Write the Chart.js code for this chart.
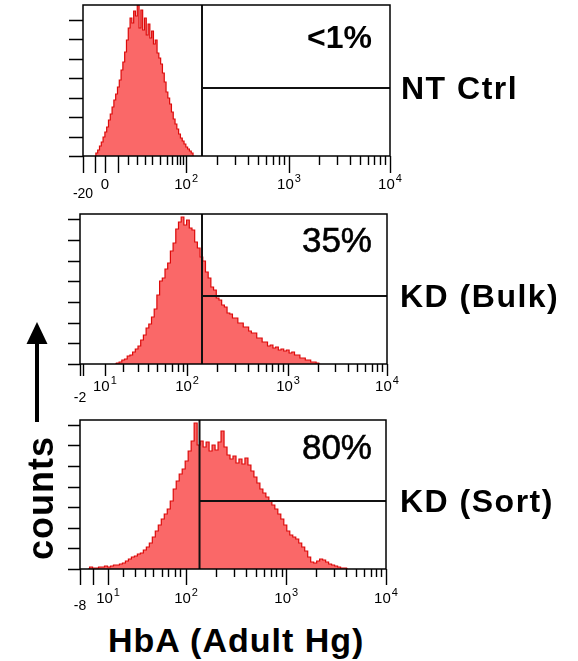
<!DOCTYPE html>
<html>
<head>
<meta charset="utf-8">
<script src="https://cdn.jsdelivr.net/npm/chart.js@4.4.1/dist/chart.umd.min.js"></script>
<style>
  body { margin: 0; background: #fff; font-family: Arial, "Liberation Sans", sans-serif; }
  #wrap { position: relative; width: 578px; height: 661px; overflow: hidden; background: #fff; }
  canvas { position: absolute; left: 0; }
  .txt { position: absolute; color: #000; white-space: nowrap; line-height: 1; }
</style>
</head>
<body>
<div id="wrap">
  <canvas id="p1" width="578" height="205" style="top:0px"></canvas>
  <canvas id="p2" width="578" height="205" style="top:205px"></canvas>
  <canvas id="p3" width="578" height="205" style="top:410px"></canvas>

  <div class="txt" id="pct1" style="font:bold 32px Arial; right:206px; top:19px"></div>
  <div class="txt" id="pct2" style="font:35px Arial; -webkit-text-stroke:0.6px #000; right:206px; top:220px"></div>
  <div class="txt" id="pct3" style="font:35px Arial; -webkit-text-stroke:0.6px #000; right:206px; top:427px"></div>

  <div class="txt" id="name1" style="font:bold 32px Arial; letter-spacing:1.5px; left:401px; top:70px"></div>
  <div class="txt" id="name2" style="font:bold 32px Arial; letter-spacing:1.5px; left:400px; top:278px"></div>
  <div class="txt" id="name3" style="font:bold 32px Arial; letter-spacing:1.5px; left:400px; top:483px"></div>

  <div class="txt" id="ytitle" style="font:bold 36px Arial; letter-spacing:1px; left:41px; top:498px; transform:translate(-50%,-50%) rotate(-90deg)">counts</div>
  <svg style="position:absolute; left:0; top:0" width="80" height="661">
    <rect x="35" y="340" width="4" height="82" fill="#000"/>
    <polygon points="37,322 26.5,344 47.5,344" fill="#000"/>
  </svg>
  <div class="txt" id="xtitle" style="font:bold 34px Arial; letter-spacing:1px; left:108px; top:621px">HbA (Adult Hg)</div>
</div>

<script>
// ---------- data ----------
// x is the instrument display channel (0..1024), y is counts
const panelNames   = ['NT Ctrl', 'KD (Bulk)', 'KD (Sort)'];
const gatePercents = ['<1%', '35%', '80%'];
const gateChannels = [397, 407, 400];
const gateLevels   = [68, 68, 68];
const countMax     = [151, 150, 149];
const countStep    = [19.5, 20.7, 20.6];

const ntCtrlStart = 40, ntCtrlBin = 6;
const ntCtrlCounts = [0,3,6,10,14,19,24,29,36,42, 49,56,62,69,76,86,94,104,116,128,
  138,133,145,140,151,128,146,126,138,121, 132,118,125,112,116,103,98,92,83,74,
  64,58,52,44,37,32,27,22,18,15, 12,9,7,5,3,0];

const bulkStart = 117, bulkBin = 9;
const bulkCounts = [0,1,2,4,5,8,9,12,15,18, 24,29,36,40,47,55,69,83,86,95,
  101,113,121,135,142,147,139,144,136,134, 122,116,107,103,92,86,77,74,66,64,
  59,57,51,50,46,46,41,41,37,37, 33,31,31,26,26,22,22,18,19,16,
  17,14,15,13,14,11,12,9,9,6, 6,4,4,2,2,1,0];

const sortStart = 27, sortBin = 10;
const sortCounts = [0,2,1,1,2,2,3,2,3,4, 4,5,6,8,10,12,13,15,16,19,
  22,26,32,38,44,50,55,60,68,80, 88,95,100,108,118,128,146,124,128,122,
  127,118,124,119,127,138,122,114,110,113, 106,110,105,111,104,98,92,86,80,76,
  72,68,64,60,55,50,44,38,34,32, 30,26,22,18,12,7,6,8,10,9,
  7,5,4,3,2,1,1,0];

// tick labels and positions (channels)
const ntCtrlTickCh   = [0, 73, 344, 687, 1024];
const ntCtrlTickText = ['-20', '0', '10^2', '10^3', '10^4'];
const ntCtrlLongCh   = [0, 40, 73, 117, 344, 687, 1024];
const ntCtrlShortCh  = [150, 180, 207, 230, 257, 280, 297, 314, 324, 334];
const ntCtrlDecades  = [344, 687, 1024];

const bulkTickCh   = [0, 83, 357, 694, 1024];
const bulkTickText = ['-2', '10^1', '10^2', '10^3', '10^4'];
const bulkLongCh   = [0, 10, 83, 357, 694, 1024];
const bulkShortCh  = [143, 193, 227, 257, 284, 307, 327, 344];
const bulkDecades  = [357, 694, 1024];

const sortTickCh   = [0, 94, 355, 690, 1024];
const sortTickText = ['-8', '10^1', '10^2', '10^3', '10^4'];
const sortLongCh   = [0, 43, 94, 355, 690, 1024];
const sortShortCh  = [144, 184, 217, 244, 274, 294, 318, 335];
const sortDecades  = [355, 690, 1024];

// ---------- layout ----------
const panels = [
  { id: 'p1', top: 0,   box: [83, 5, 390, 156],   start: ntCtrlStart, bin: ntCtrlBin, counts: ntCtrlCounts,
    tickCh: ntCtrlTickCh, tickText: ntCtrlTickText, longCh: ntCtrlLongCh, shortCh: ntCtrlShortCh, decades: ntCtrlDecades,
    longLen: 17, shortLen: 9, yLen: 14, labBase: 189, negBase: 198 },
  { id: 'p2', top: 205, box: [80, 214, 387, 364], start: bulkStart, bin: bulkBin, counts: bulkCounts,
    tickCh: bulkTickCh, tickText: bulkTickText, longCh: bulkLongCh, shortCh: bulkShortCh, decades: bulkDecades,
    longLen: 12, shortLen: 8, yLen: 12, labBase: 391, negBase: 402 },
  { id: 'p3', top: 410, box: [80, 420, 386, 569], start: sortStart, bin: sortBin, counts: sortCounts,
    tickCh: sortTickCh, tickText: sortTickText, longCh: sortLongCh, shortCh: sortShortCh, decades: sortDecades,
    longLen: 16, shortLen: 8, yLen: 12, labBase: 603, negBase: 610 }
];

panelNames.forEach((n, i) => document.getElementById('name' + (i + 1)).textContent = n);
gatePercents.forEach((p, i) => document.getElementById('pct' + (i + 1)).textContent = p);

function makePanel(p, idx) {
  const H = 205;
  const ymax = countMax[idx], step = countStep[idx];
  const hist = p.counts.map((c, i) => ({ x: p.start + i * p.bin, y: c }));

  // log minor ticks between decades
  const minors = [];
  for (let d = 0; d < p.decades.length - 1; d++) {
    for (let m = 2; m <= 9; m++) {
      minors.push(p.decades[d] + Math.log10(m) * (p.decades[d + 1] - p.decades[d]));
    }
  }

  const axesPlugin = {
    id: 'fcsAxes' + idx,
    afterDatasetsDraw(chart) {
      const ctx = chart.ctx, a = chart.chartArea;
      const xs = chart.scales.x, ys = chart.scales.y;
      ctx.save();
      ctx.strokeStyle = '#000';
      ctx.lineWidth = 1.5;
      ctx.strokeRect(a.left, a.top, a.right - a.left, a.bottom - a.top);

      ctx.lineWidth = 1.4;
      ctx.beginPath();
      for (let k = 0; k * step <= ymax + 0.01; k++) {
        const y = Math.round(ys.getPixelForValue(k * step)) + 0.5;
        ctx.moveTo(a.left - p.yLen, y); ctx.lineTo(a.left, y);
      }
      p.longCh.forEach(v => {
        const x = Math.round(xs.getPixelForValue(v)) + 0.5;
        ctx.moveTo(x, a.bottom); ctx.lineTo(x, a.bottom + p.longLen);
      });
      p.shortCh.concat(minors).forEach(v => {
        const x = Math.round(xs.getPixelForValue(v)) + 0.5;
        ctx.moveTo(x, a.bottom); ctx.lineTo(x, a.bottom + p.shortLen);
      });
      ctx.stroke();

      // tick labels: "10^2" is drawn as 10 with a raised exponent
      ctx.fillStyle = '#000';
      ctx.textBaseline = 'alphabetic';
      ctx.textAlign = 'left';
      for (let i = 0; i < p.tickCh.length; i++) {
        const t = String(p.tickText[i]);
        const x = xs.getPixelForValue(p.tickCh[i]);
        const neg = t.charAt(0) === '-';
        const parts = t.split('^');
        const y = (neg ? p.negBase : p.labBase) - p.top;
        ctx.font = neg ? '14px Arial' : '15px Arial';
        const w1 = ctx.measureText(parts[0]).width;
        let w2 = 0;
        if (parts.length > 1) {
          ctx.font = '11px Arial';
          w2 = ctx.measureText(parts[1]).width + 1;
        }
        const x0 = x - (w1 + w2) / 2;
        ctx.font = neg ? '14px Arial' : '15px Arial';
        ctx.fillText(parts[0], x0, y);
        if (parts.length > 1) {
          ctx.font = '11px Arial';
          ctx.fillText(parts[1], x0 + w1 + 1, y - 7);
        }
      }
      ctx.restore();
    }
  };

  const b = p.box;
  return new Chart(document.getElementById(p.id), {
    type: 'line',
    data: {
      datasets: [
        { data: [{ x: gateChannels[idx], y: 0 }, { x: gateChannels[idx], y: ymax }],
          borderColor: '#111', borderWidth: 2, pointRadius: 0, fill: false, order: 0 },
        { data: [{ x: gateChannels[idx], y: gateLevels[idx] }, { x: 1024, y: gateLevels[idx] }],
          borderColor: '#111', borderWidth: 2, pointRadius: 0, fill: false, order: 0 },
        { data: hist, stepped: 'middle', borderColor: '#dc0a0a', borderWidth: 1.2,
          backgroundColor: 'rgb(250,104,104)', fill: 'origin', pointRadius: 0, order: 1 }
      ]
    },
    options: {
      responsive: false,
      animation: false,
      events: [],
      layout: { padding: { left: b[0], right: 578 - b[2], top: b[1] - p.top, bottom: p.top + H - b[3] } },
      scales: {
        x: { type: 'linear', min: 0, max: 1024, display: false },
        y: { min: 0, max: ymax, display: false }
      },
      plugins: { legend: { display: false }, tooltip: { enabled: false } }
    },
    plugins: [axesPlugin]
  });
}

panels.forEach(makePanel);
</script>
</body>
</html>
